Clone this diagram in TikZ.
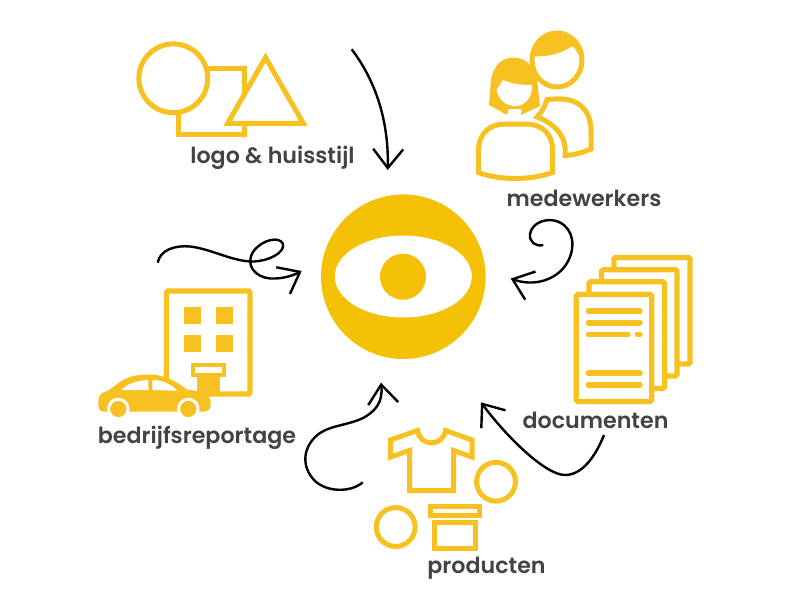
\documentclass[tikz,border=0pt]{standalone}
\usepackage{fontspec}
\setmainfont{Poppins SemiBold}
\usetikzlibrary{arrows.meta}
\definecolor{eyeyellow}{HTML}{F5C107}
\definecolor{iconyellow}{HTML}{F6C121}
\definecolor{labelgray}{HTML}{434343}
\tikzset{
  icon/.style={draw=iconyellow, line width=5pt, fill=white},
  iconfill/.style={fill=iconyellow, draw=none},
  sheet/.style={icon, line width=5.2pt, rounded corners=1.5pt},
  textline/.style={draw=iconyellow, line width=5.6pt, line cap=round},
  label/.style={text=labelgray, font=\fontsize{22.2}{24}\selectfont, anchor=base, inner sep=0pt},
  handarrow/.style={draw=black, line width=2.4pt, -{Straight Barb[length=19pt, width=30pt, line width=2.4pt]}},
}
\begin{document}
\begin{tikzpicture}[x=1pt, y=-1pt]
    \useasboundingbox (0,0) rectangle (800,600) ;

    % eye
    \fill [eyeyellow] (403.3,276.7) circle [radius=82.3] ;
    \fill [white] (403.3,276.5) ellipse [x radius=68.5, y radius=41] ;
    \node (eye) [circle, fill=eyeyellow, minimum size=46pt, inner sep=0pt] at (403,276.7) {} ;

    % logo
    \draw [icon] (178,68) rectangle (244.5,134.5) ;
    \draw [icon] (173.3,78.3) circle [radius=34.4] ;
    \draw [icon, line join=miter] (265.5,57.5) -- (303.3,123.3) -- (227.7,123.3) -- cycle ;
    \node (logolabel) [label] at (272.5,163.5) {logo \& huisstijl} ;

    % medewerkers
    \draw [icon] (537,117) .. controls (542,112) and (545,106) .. (547,99.5)
        .. controls (552,99) and (560,98.5) .. (567,99.5)
        .. controls (582,102) and (591,114) .. (591,130) -- (591,149)
        .. controls (582,153) and (573,155) .. (565,155.5) -- (565,147)
        .. controls (564,134) and (552,122) .. cycle ;
    \draw [icon] (557,60) ellipse [x radius=25, y radius=27] ;
    \fill [iconyellow] (532,60) .. controls (531,42) and (545,31) .. (557,31)
        .. controls (567,31) and (575,37) .. (579,46)
        .. controls (582,50) and (582,54) .. (582,60)
        -- (573,46) .. controls (562,53) and (548,57) .. (534,56.5) -- cycle ;
    \fill [iconyellow] (489,105) -- (491,80) .. controls (493,66) and (502,57.5) .. (513,57.5)
        .. controls (526,57.5) and (535,67) .. (537,80) -- (540,106) -- (521,115) -- (521.5,109)
        -- (508.5,109) -- (507,115) -- cycle ;
    \fill [white] (496.5,90) -- (503,80) .. controls (512,84) and (522,85) .. (532,85)
        .. controls (533,97) and (525,106) .. (515,106) .. controls (506,106) and (499,100) .. cycle ;
    \draw [icon] (478.5,172.5) -- (478.5,150) .. controls (479,133) and (490,124) .. (505,124)
        -- (526,124) .. controls (542,124) and (552.5,134) .. (552.5,150) -- (552.5,172.5)
        .. controls (530,180.5) and (500,180.5) .. cycle ;
    \node (staflabel) [label] at (584,206.5) {medewerkers} ;

    % documenten
    \draw [sheet] (614,257.5) rectangle (690,364) ;
    \draw [sheet] (601.5,269.8) rectangle (677,376) ;
    \draw [sheet] (589,281.8) rectangle (664.5,388.5) ;
    \draw [sheet] (576.2,294.5) rectangle (651.8,401.5) ;
    \draw [textline] (588.5,311) -- (640,311) ;
    \draw [textline] (588.5,322.7) -- (640,322.7) ;
    \draw [textline] (588.5,334.3) -- (628,334.3) ;
    \draw [textline] (637.5,334.3) -- (640,334.3) ;
    \draw [textline] (588.5,373) -- (640,373) ;
    \draw [textline] (588.5,384.7) -- (640,384.7) ;
    \node (doclabel) [label] at (595.5,428) {documenten} ;

    % producten
    \draw [icon, line join=miter] (390.5,440) -- (390.5,457) -- (409.5,450.5) -- (409.5,490.5)
        -- (453.5,490.5) -- (453.5,450.5) -- (472,457) -- (472,440) -- (445.5,430.5)
        .. controls (443,447) and (420,447) .. (417.5,430.5) -- cycle ;
    \draw [icon] (496,481.7) circle [radius=19.4] ;
    \draw [icon] (395.7,527) circle [radius=19.4] ;
    \draw [icon] (430.5,506) rectangle (479,515.5) ;
    \draw [icon] (434,522.3) rectangle (475.5,548) ;
    \node (prodlabel) [label] at (486.5,573) {producten} ;

    % bedrijfsreportage
    \draw [icon, line width=5.2pt, rounded corners=1.5pt] (166.5,291) rectangle (250,394) ;
    \foreach \wx in {184,216} {
        \foreach \wy in {307.3,335} {
            \fill [iconyellow] (\wx,\wy) rectangle ++(16.7,16.7) ;
        }
    }
    \fill [iconyellow] (197.3,375) rectangle (220,394) ;
    \draw [icon, line width=3.8pt] (193,365) rectangle (224,375) ;
    \path [iconfill] (98.3,403) .. controls (98.3,396) and (100,393) .. (107,391)
        .. controls (113,389) and (122,376) .. (140,375)
        .. controls (155,373) and (170,376) .. (186.7,389.5)
        .. controls (198,391) and (210,392) .. (210.7,402)
        .. controls (211,408) and (209,411) .. (205,411.5) -- (103,411.5)
        .. controls (99,411) and (98.3,408) .. cycle ;
    \fill [white] (121.7,390) .. controls (126,385) and (135,380.5) .. (148.3,380) -- (148.3,390) -- cycle ;
    \fill [white] (152.3,380) .. controls (162,380) and (171,384) .. (177.3,390.7) -- (152.3,390) -- cycle ;
    \foreach \wheel/\hx in {wheelrear/118.3,wheelfront/188.3} {
        \node (\wheel) [circle, fill=iconyellow, draw=white, line width=3pt, minimum size=19.5pt, inner sep=0pt] at (\hx,409) {} ;
    }
    \node (carlabel) [label] at (197,443) {bedrijfsreportage} ;

    % pijlen
    \coordinate (logotail) at (351.7,49.3) ;
    \coordinate (logotip) at (387.7,170) ;
    \coordinate (staftail) at (543.3,245) ;
    \coordinate (staftip) at (510.7,278.5) ;
    \coordinate (doctail) at (604,435) ;
    \coordinate (doctip) at (481,402.3) ;
    \coordinate (prodtail) at (362.7,482.3) ;
    \coordinate (prodtip) at (381,382.7) ;
    \coordinate (cartail) at (157.7,262.7) ;
    \coordinate (cartip) at (301.7,271) ;

    \draw [handarrow] (logotail) .. controls (372,76) and (389,115) .. (logotip) ;
    \draw [handarrow] (staftail) .. controls (536,247) and (529,242) .. (530,234)
        .. controls (532,222) and (548,217) .. (559,222)
        .. controls (574,229) and (576,248) .. (567,263)
        .. controls (557,280) and (534,287) .. (staftip) ;
    \draw [handarrow] (doctail) .. controls (596,455) and (583,475) .. (565,475)
        .. controls (545,475) and (505,435) .. (doctip) ;
    \draw [handarrow] (prodtail) .. controls (352,492) and (328,493) .. (315,481)
        .. controls (300,466) and (303,445) .. (320,433)
        .. controls (332,425) and (350,425) .. (365,417)
        .. controls (376,410) and (383,402) .. (prodtip) ;
    \draw [handarrow] (cartail) .. controls (160,250) and (175,245) .. (190,246.5)
        .. controls (212,249) and (233,262) .. (254,261.5)
        .. controls (268,261) and (285,253) .. (283,244)
        .. controls (280,236) and (262,239) .. (253,252)
        .. controls (245,265) and (255,277) .. (270,278.5)
        .. controls (282,279) and (292,276) .. (cartip) ;
\end{tikzpicture}
\end{document}
